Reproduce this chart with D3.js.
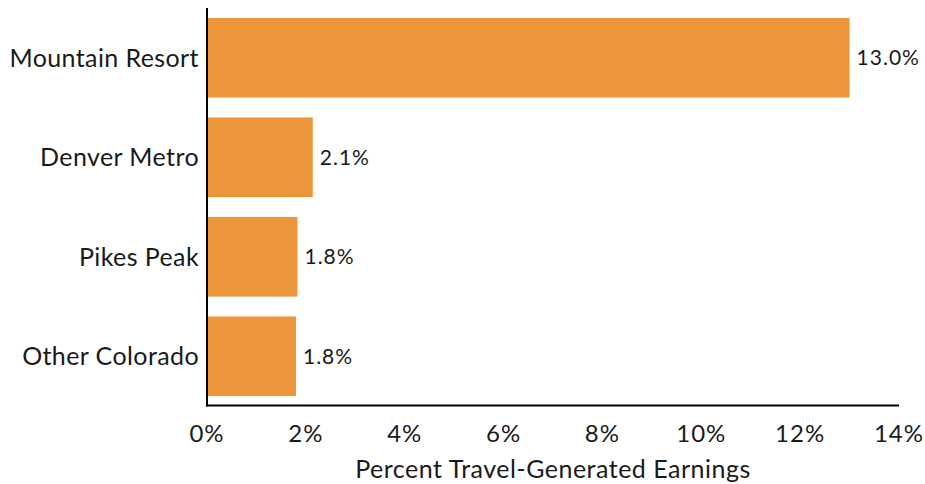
<!DOCTYPE html>
<html><head><meta charset="utf-8">
<script src="https://cdn.jsdelivr.net/npm/d3@7"></script>
<style>body{margin:0;background:#fff}svg{display:block}text{font-family:Lato,"Open Sans",sans-serif;fill:#1a1a1a}</style>
</head><body><svg id="c" width="925" height="484"></svg>
<script>
const categories = ["Mountain Resort","Denver Metro","Pikes Peak","Other Colorado"];
const values = [13.0, 2.14, 1.83, 1.80];
const valueLabels = ["13.0%","2.1%","1.8%","1.8%"];
const xTicks = [0,2,4,6,8,10,12,14];
const xTitle = "Percent Travel-Generated Earnings";

const svg = d3.select("#c");
const x = d3.scaleLinear().domain([0,14]).range([207,899]);
const y = d3.scaleBand().domain(categories).range([8,406]).paddingInner(0.2).paddingOuter(0.1);

svg.selectAll("rect.bar").data(categories).join("rect").attr("class","bar")
  .attr("x", x(0)).attr("y", d=>y(d)).attr("height", y.bandwidth())
  .attr("width", (d,i)=>x(values[i])-x(0)).attr("fill","#EB963B");

svg.selectAll("text.val").data(categories).join("text").attr("class","val")
  .attr("x",(d,i)=>x(values[i])+7).attr("y",d=>y(d)+y.bandwidth()/2)
  .attr("dy","0.35em").attr("font-size",21).attr("letter-spacing",1).text((d,i)=>valueLabels[i]);

svg.selectAll("text.cat").data(categories).join("text").attr("class","cat")
  .attr("x",199).attr("y",d=>y(d)+y.bandwidth()/2).attr("dy","0.35em")
  .attr("text-anchor","end").attr("font-size",25).attr("letter-spacing",0.4).text(d=>d);

// axes lines
svg.append("line").attr("x1",x(0)).attr("x2",x(0)).attr("y1",8).attr("y2",406.5).attr("stroke","#000").attr("stroke-width",2);
svg.append("line").attr("x1",x(0)-1).attr("x2",x(14)).attr("y1",405.5).attr("y2",405.5).attr("stroke","#000").attr("stroke-width",2);

svg.selectAll("text.tick").data(xTicks).join("text").attr("class","tick")
  .attr("x",d=>x(d)).attr("y",442).attr("text-anchor","middle").attr("font-size",24).attr("letter-spacing",1).text(d=>d+"%");

svg.append("text").attr("x",553).attr("y",478).attr("text-anchor","middle").attr("font-size",25).attr("letter-spacing",0.5).text(xTitle);
</script></body></html>
